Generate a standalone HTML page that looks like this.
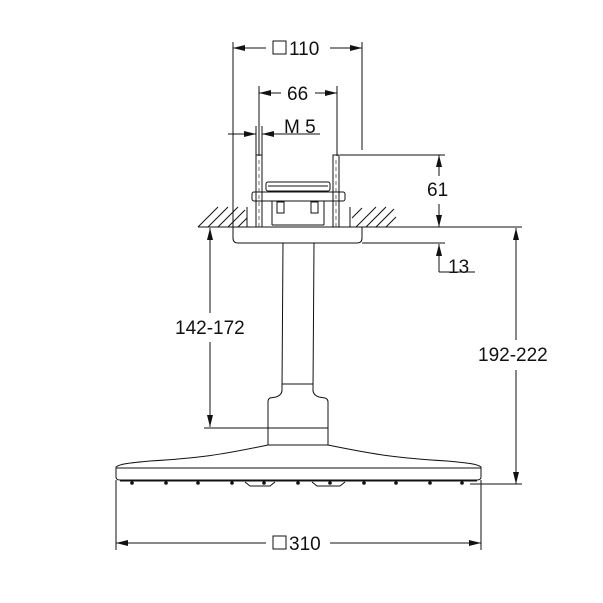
<!DOCTYPE html>
<html><head><meta charset="utf-8"><style>html,body{margin:0;padding:0;background:#fff}svg{display:block}</style></head>
<body>
<svg width="603" height="603" viewBox="0 0 603 603" xmlns="http://www.w3.org/2000/svg" font-family="Liberation Sans, sans-serif" font-size="19" fill="#111">
<defs>
<marker id="a" viewBox="0 0 12 6" refX="12" refY="3" markerWidth="12" markerHeight="6" orient="auto-start-reverse" markerUnits="userSpaceOnUse"><path d="M0,0 L12,3 L0,6 z" fill="#111"/></marker>
</defs>
<g stroke="#111" stroke-width="1" fill="none">
<!-- 110 -->
<line x1="233" y1="42" x2="233" y2="228"/><line x1="362" y1="42" x2="362" y2="150"/>
<line x1="233" y1="48" x2="266" y2="48" marker-start="url(#a)"/><line x1="330" y1="48" x2="362" y2="48" marker-end="url(#a)"/>
<!-- 66 -->
<line x1="259" y1="86" x2="259" y2="156"/><line x1="337" y1="86" x2="337" y2="156"/>
<line x1="259" y1="93" x2="281" y2="93" marker-start="url(#a)"/><line x1="315" y1="93" x2="337" y2="93" marker-end="url(#a)"/>
<!-- M5 -->
<line x1="228" y1="134" x2="256" y2="134" marker-end="url(#a)"/><line x1="320" y1="134" x2="262" y2="134" marker-end="url(#a)"/>
<line x1="256" y1="126" x2="256" y2="156"/><line x1="262" y1="126" x2="262" y2="156"/>
<!-- studs -->
<rect x="256" y="155" width="6" height="72"/><rect x="333" y="155" width="6" height="72"/>
<line x1="259" y1="160" x2="259" y2="227" stroke-dasharray="4,3" stroke-width="0.6"/><line x1="336" y1="160" x2="336" y2="227" stroke-dasharray="4,3" stroke-width="0.6"/>
<!-- box -->
<rect x="266" y="182" width="64" height="9" rx="2"/><line x1="268" y1="186" x2="328" y2="186"/>
<rect x="252" y="192" width="93" height="9" rx="2"/>
<line x1="272" y1="201" x2="272" y2="225"/><line x1="324" y1="201" x2="324" y2="225"/><line x1="272" y1="225" x2="324" y2="225"/>
<rect x="277" y="202" width="7" height="11"/><rect x="311" y="202" width="7" height="11"/>
<!-- hatching -->
<g stroke-width="1">
<line x1="198" y1="227" x2="218" y2="207"/><line x1="208" y1="227" x2="228" y2="207"/><line x1="218" y1="227" x2="238" y2="207"/><line x1="228" y1="227" x2="245" y2="210"/><line x1="238" y1="227" x2="247" y2="218"/>
<line x1="352" y1="218" x2="362" y2="208"/><line x1="356" y1="227" x2="376" y2="207"/><line x1="366" y1="227" x2="386" y2="207"/><line x1="376" y1="227" x2="394" y2="209"/><line x1="386" y1="227" x2="396" y2="217"/>
<line x1="247" y1="207" x2="247" y2="227"/><line x1="350" y1="207" x2="350" y2="227"/>
</g>
<line x1="198" y1="227" x2="522" y2="227"/>
<path d="M233,227 V238 Q233,243 238,243 H357 Q362,243 362,238 V227"/>
<!-- 61 -->
<line x1="340" y1="155" x2="445" y2="155"/>
<line x1="439" y1="176" x2="439" y2="155" marker-end="url(#a)"/><line x1="439" y1="204" x2="439" y2="227" marker-end="url(#a)"/>
<!-- 13 -->
<line x1="362" y1="243" x2="445" y2="243"/>
<line x1="439" y1="272" x2="439" y2="244" marker-end="url(#a)"/><line x1="439" y1="272" x2="475" y2="272"/>
<!-- 192-222 -->
<line x1="516" y1="340" x2="516" y2="228" marker-end="url(#a)"/><line x1="516" y1="370" x2="516" y2="484" marker-end="url(#a)"/>
<line x1="470" y1="484" x2="522" y2="484"/>
<!-- 142-172 -->
<line x1="210" y1="313" x2="210" y2="228" marker-end="url(#a)"/><line x1="210" y1="342" x2="210" y2="427" marker-end="url(#a)"/>
<line x1="204" y1="428" x2="268" y2="428"/>
<!-- pipe -->
<line x1="283" y1="243" x2="282" y2="390"/><line x1="314" y1="243" x2="313" y2="390"/>
<line x1="282" y1="384" x2="313" y2="384"/>
<path d="M282,390 Q282,395 276,397 L270,398 Q268,399 268,402 V445"/>
<path d="M313,390 Q313,395 319,397 L325,398 Q328,399 328,402 V445"/>
<line x1="268" y1="428" x2="328" y2="428"/>
<!-- head -->
<path d="M268,445 C220,455 200,458 150,461 C128,463 120,464 116,467 V477 Q116,480 120,480 H477 Q481,480 481,477 V467 C477,464 469,463 447,461 C397,458 377,455 328,445 Z"/>
<line x1="116" y1="468" x2="481" y2="468"/>
<line x1="120" y1="481" x2="477" y2="481"/>
<path d="M245,482 L250,486 H270 L275,482 M312,482 L317,486 H340 L345,482"/>
<line x1="116" y1="480" x2="116" y2="550"/><line x1="481" y1="480" x2="481" y2="550"/>
<!-- 310 -->
<line x1="116" y1="543" x2="266" y2="543" marker-start="url(#a)"/><line x1="330" y1="543" x2="481" y2="543" marker-end="url(#a)"/>
<rect x="273" y="41" width="13" height="13"/>
<rect x="273" y="536" width="13" height="13"/>
</g>
<g fill="#111">
<circle cx="132" cy="483" r="1.8"/><circle cx="166" cy="483" r="1.8"/><circle cx="198" cy="483" r="1.8"/><circle cx="232" cy="483" r="1.8"/><circle cx="264" cy="483" r="1.8"/><circle cx="298" cy="483" r="1.8"/><circle cx="330" cy="483" r="1.8"/><circle cx="364" cy="483" r="1.8"/><circle cx="396" cy="483" r="1.8"/><circle cx="430" cy="483" r="1.8"/><circle cx="462" cy="483" r="1.8"/>
</g>
<text x="289" y="55">110</text>
<text x="287" y="100">66</text>
<text x="284" y="133">M 5</text>
<text x="427" y="196">61</text>
<text x="448" y="273">13</text>
<text x="175" y="334">142-172</text>
<text x="478" y="361">192-222</text>
<text x="289" y="550">310</text>
</svg>
</body></html>
